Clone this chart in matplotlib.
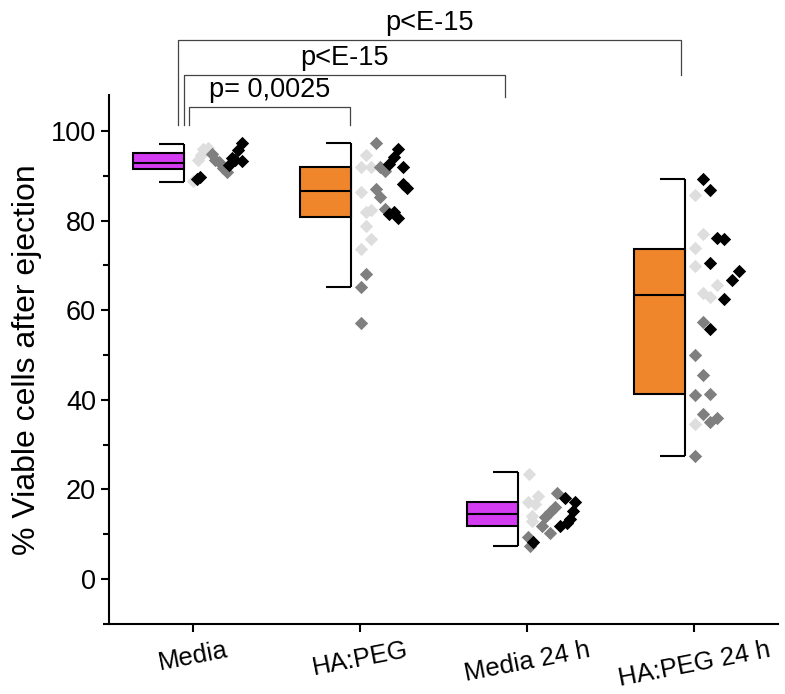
import numpy as np
import matplotlib.pyplot as plt
from matplotlib.ticker import MultipleLocator

plt.rcParams['font.family'] = ['Liberation Sans', 'DejaVu Sans']

groups = ['Media', 'HA:PEG', 'Media 24 h', 'HA:PEG 24 h']
box_colors = ['#d43cf2', '#ef862c', '#d43cf2', '#ef862c']

# box statistics (q1, median, q3, whisker low, whisker high)
q1 = [91.5, 80.7, 11.9, 41.3]
med = [92.8, 86.5, 14.6, 63.3]
q3 = [95.0, 92.0, 17.2, 73.6]
whis_lo = [88.7, 65.1, 7.3, 27.5]
whis_hi = [97.0, 97.4, 23.8, 89.2]

# replicate points: light grey / grey / black, jitter offsets in pixels
light_y = [
    [96.0, 96.1, 94.7, 93.6, 88.9],
    [94.7, 91.9, 92.0, 86.3, 81.8, 82.4, 78.7, 75.9, 73.7],
    [23.5, 18.6, 17.3, 16.7, 14.1, 13.0],
    [85.6, 77.0, 73.9, 69.9, 65.7, 63.8, 62.9, 34.7],
]
light_dx = [
    [10, 15, 8, 5, 0],
    [6, 1, 11, 1, 6, 11, 6, 11, 1],
    [2, 11, 1, 8, 5, 5],
    [1, 9, 1, 1, 23, 9, 16, 1],
]
grey_y = [
    [94.8, 93.6, 93.0, 91.7, 90.9],
    [97.4, 92.0, 91.1, 87.0, 85.2, 82.6, 68.1, 65.1, 57.2],
    [19.3, 16.0, 15.0, 13.9, 11.9, 10.2, 9.3, 7.3],
    [57.4, 50.1, 45.5, 41.0, 41.2, 36.9, 35.1, 36.0, 27.5],
]
grey_dx = [
    [19, 22, 26, 30, 34],
    [16, 20, 25, 16, 20, 25, 6, 1, 1],
    [30, 28, 23, 18, 15, 23, 1, 3],
    [9, 1, 9, 1, 16, 9, 16, 23, 1],
]
black_y = [
    [97.3, 95.8, 93.5, 93.9, 93.2, 92.4, 89.8, 89.3],
    [96.0, 94.1, 92.7, 92.0, 88.2, 87.2, 81.5, 82.0, 80.5],
    [18.0, 17.2, 15.2, 13.5, 11.9, 12.6, 8.3],
    [89.3, 86.9, 76.1, 75.9, 70.5, 68.7, 66.7, 62.5, 55.9],
]
black_dx = [
    [49, 45, 42, 39, 49, 36, 7, 4],
    [38, 34, 29, 43, 43, 47, 29, 34, 38],
    [38, 48, 46, 43, 33, 40, 6],
    [9, 16, 23, 30, 16, 45, 38, 30, 16],
]

# significance brackets: (left x, right x, left drop, right drop, height, label)
brackets = [
    (0.98, 1.94, 101.3, 101.3, 105.3, 'p= 0,0025'),
    (0.95, 2.87, 101.3, 107.6, 112.5, 'p<E-15'),
    (0.91, 3.92, 101.3, 112.5, 120.3, 'p<E-15'),
]

px = 1 / 167.0
fig = plt.figure(figsize=(7.85, 6.94), dpi=100)
ax = fig.add_axes([0.139, 0.101, 0.852, 0.762])

x = np.arange(1, len(groups) + 1)
box_l, box_r = -60 * px, -9 * px
cap_l = -34 * px
for i, xi in enumerate(x):
    ax.bar(xi + box_l, q3[i] - q1[i], bottom=q1[i], width=box_r - box_l,
           align='edge', color=box_colors[i], edgecolor='black', lw=1.5, zorder=2)
    ax.hlines(med[i], xi + box_l, xi + box_r, color='black', lw=1.5, zorder=3)
    ax.vlines(xi + box_r, whis_lo[i], whis_hi[i], color='black', lw=1.5, zorder=1)
    ax.hlines([whis_lo[i], whis_hi[i]], xi + cap_l, xi + box_r, color='black', lw=1.5)
    for ys, dxs, c in [(light_y[i], light_dx[i], '#dedede'),
                       (grey_y[i], grey_dx[i], '#7f7f7f'),
                       (black_y[i], black_dx[i], '#000000')]:
        ax.scatter(xi + np.array(dxs) * px, ys, marker='D', s=46, color=c,
                   linewidths=0, zorder=4)

for xl, xr, yl, yr, h, lab in brackets:
    ax.plot([xl, xl, xr, xr], [yl, h, h, yr], color='#444444', lw=0.9,
            clip_on=False)
    ax.text((xl + xr) / 2, h + 0.9, lab, ha='center', va='bottom', fontsize=19.5,
            clip_on=False)

ax.set_xlim(0.5, 4.5)
ax.set_ylim(-10, 108)
ax.set_xticks(x)
ax.set_xticklabels(groups, rotation=11, fontsize=18.5)
ax.yaxis.set_major_locator(MultipleLocator(20))
ax.yaxis.set_minor_locator(MultipleLocator(10))
ax.set_yticks([0, 20, 40, 60, 80, 100])
ax.tick_params(axis='y', labelsize=19.5, width=1.5, length=6)
ax.tick_params(axis='y', which='minor', width=1.5, length=4)
ax.tick_params(axis='x', width=1.5, length=6, pad=4)
ax.set_ylabel('% Viable cells after ejection', fontsize=23, labelpad=6)
for s in ['top', 'right']:
    ax.spines[s].set_visible(False)
for s in ['left', 'bottom']:
    ax.spines[s].set_linewidth(1.5)

fig.savefig('out.png', dpi=100, facecolor='white')
